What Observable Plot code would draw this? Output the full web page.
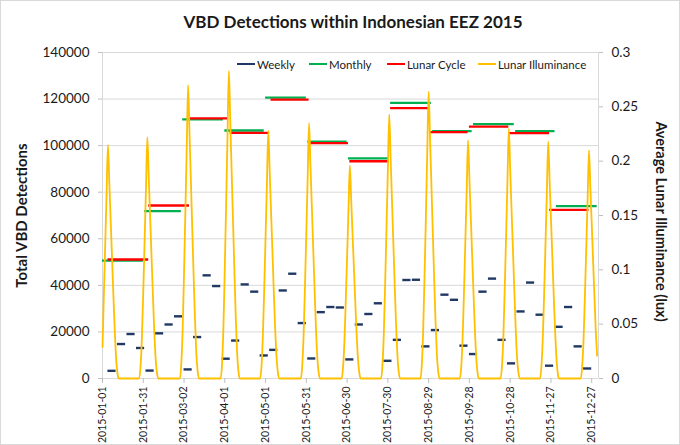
<!DOCTYPE html>
<html>
<head>
<meta charset="utf-8">
<script src="https://cdn.jsdelivr.net/npm/d3@7"></script>
<script src="https://cdn.jsdelivr.net/npm/@observablehq/plot@0.6"></script>
<style>
  html, body { margin: 0; padding: 0; background: #fff; }
  #wrap { position: relative; width: 680px; height: 445px; overflow: hidden; font-family: Lato, "Open Sans", sans-serif; color: #1a1a1a; }
  #title { height: 40px; box-sizing: border-box; padding-top: 11px; padding-left: 26px; text-align: center; font-weight: bold; font-size: 17px; }
  #frame { position: absolute; left: 0; top: 0; width: 680px; height: 445px; box-sizing: border-box; border: 1px solid #d9d9d9; pointer-events: none; }
  .lg { position: absolute; top: 57px; height: 14px; display: flex; align-items: center; font-size: 11.5px; white-space: nowrap; }
  .sw { width: 18px; height: 2.4px; margin-right: 2px; }
</style>
</head>
<body>
<div id="wrap">
  <div id="title">VBD Detections within Indonesian EEZ 2015</div>
  <div id="chart"></div>
  <div id="legend"></div>
  <div id="frame"></div>
</div>
<script>
// ---------------- data ----------------
const seriesNames = ["Weekly", "Monthly", "Lunar Cycle", "Lunar Illuminance"];
const seriesColors = ["#203864", "#00B050", "#FF0000", "#FFC000"];

// weekly totals, first week point 2015-01-08, one per 7 days
const weeklyStart = "2015-01-08";
const weeklyValues = [3300, 14800, 19100, 13100, 3400, 19400, 23200, 26700, 3900, 17800,
  44300, 39700, 8500, 16300, 40400, 37300, 9900, 12300, 37800, 45000,
  23800, 8600, 28500, 30700, 30500, 8200, 23200, 27700, 32300, 7600,
  16600, 42300, 42400, 13800, 20800, 36000, 33800, 14100, 10500, 37300,
  42900, 16600, 6500, 28800, 41200, 27400, 5500, 22200, 30700, 13800, 4300];

// monthly totals (calendar months of 2015)
const months = ["2015-01","2015-02","2015-03","2015-04","2015-05","2015-06","2015-07","2015-08","2015-09","2015-10","2015-11","2015-12"];
const monthlyValues = [50600, 71900, 111300, 106500, 120600, 101700, 94500, 118400, 106200, 109200, 106200, 74000];

// lunar cycle totals (full moon to full moon)
const lunarStart = ["2015-01-05","2015-02-04","2015-03-06","2015-04-05","2015-05-05","2015-06-03","2015-07-02","2015-08-01","2015-08-30","2015-09-28","2015-10-27","2015-11-26"];
const lunarEnd   = ["2015-02-04","2015-03-06","2015-04-03","2015-05-04","2015-06-02","2015-07-01","2015-07-31","2015-08-29","2015-09-27","2015-10-27","2015-11-26","2015-12-25"];
const lunarValues = [51100, 74300, 111700, 105500, 119800, 101100, 93300, 116100, 105800, 108200, 105400, 72400];

// daily average lunar illuminance (lux), from 2015-01-01
const illumStart = "2015-01-01";
const illuminance = [
  // Jan
  0.029,0.077,0.123,0.170,0.215,0.181,0.146,0.112,0.077,0.045,0.019,0.005, 0,0,0,0,0,0,0,0, 0,0,0,0,0,0,0,0, 0.011,0.038,0.080,
  // Feb
  0.127,0.175,0.222,0.186,0.151,0.115,0.080,0.047,0.020,0.006, 0,0,0,0,0,0,0,0, 0,0,0,0,0,0,0,0, 0, 0.014,
  // Mar
  0.046,0.097,0.154,0.213,0.270,0.227,0.184,0.140,0.097,0.057,0.024,0.007, 0,0,0,0,0,0,0,0, 0,0,0,0,0,0,0,0, 0, 0.014,0.048,
  // Apr
  0.102,0.161,0.224,0.283,0.238,0.192,0.147,0.102,0.059,0.025,0.007, 0,0,0,0,0,0,0,0, 0,0,0,0,0,0,0,0, 0.011,0.039,0.082,
  // May
  0.130,0.180,0.228,0.192,0.155,0.119,0.082,0.048,0.021,0.006, 0,0,0,0,0,0,0,0, 0,0,0,0,0,0,0,0, 0, 0.012,0.040,0.085,0.134,
  // Jun
  0.186,0.235,0.197,0.160,0.122,0.085,0.049,0.021,0.006, 0,0,0,0,0,0,0,0, 0,0,0,0,0,0,0,0, 0, 0.010,0.033,0.071,0.112,
  // Jul
  0.155,0.196,0.165,0.133,0.102,0.071,0.041,0.018,0.005, 0,0,0,0,0,0,0,0, 0,0,0,0,0,0,0,0, 0.012,0.041,0.087,0.139,0.192,0.243,
  // Aug
  0.204,0.165,0.126,0.087,0.051,0.022,0.006, 0,0,0,0,0,0,0,0, 0,0,0,0,0,0,0,0, 0.013,0.045,0.095,0.150,0.209,0.264,0.222,0.180,
  // Sep
  0.137,0.095,0.055,0.024,0.007, 0,0,0,0,0,0,0,0, 0,0,0,0,0,0,0,0, 0.011,0.037,0.079,0.125,0.173,0.219,0.184,0.149,0.114,
  // Oct
  0.079,0.046,0.020,0.005, 0,0,0,0,0,0,0,0, 0,0,0,0,0,0,0,0, 0, 0.012,0.039,0.083,0.131,0.182,0.230,0.193,0.156,0.120,0.083,
  // Nov
  0.048,0.021,0.006, 0,0,0,0,0,0,0,0, 0,0,0,0,0,0,0,0, 0.011,0.037,0.078,0.124,0.172,0.218,0.183,0.148,0.113,0.078,0.046,
  // Dec
  0.020,0.005, 0,0,0,0,0,0,0,0, 0,0,0,0,0,0,0,0, 0, 0.011,0.036,0.076,0.120,0.166,0.210,0.176,0.143,0.109,0.076,0.044,0.021
];

// axes
const xTickLabels = ["2015-01-01","2015-01-31","2015-03-02","2015-04-01","2015-05-01","2015-05-31","2015-06-30","2015-07-30","2015-08-29","2015-09-28","2015-10-28","2015-11-27","2015-12-27"];
const leftTicks = [0, 20000, 40000, 60000, 80000, 100000, 120000, 140000];
const rightTicks = [0, 0.05, 0.1, 0.15, 0.2, 0.25, 0.3];
const xDomain = ["2015-01-01", "2016-01-01"];

// ---------------- build ----------------
const parse = d3.utcParse("%Y-%m-%d");
const yMax = leftTicks[leftTicks.length - 1];
const rMax = rightTicks[rightTicks.length - 1];
const k = yMax / rMax;

const weekly = weeklyValues.map((v, i) => ({date: d3.utcDay.offset(parse(weeklyStart), 7 * i), value: v}));
const monthly = months.map((m, i) => {
  const s = d3.utcParse("%Y-%m")(m);
  return {x1: s, x2: d3.utcDay.offset(d3.utcMonth.offset(s, 1), -1), value: monthlyValues[i]};
});
const lunar = lunarValues.map((v, i) => ({x1: parse(lunarStart[i]), x2: parse(lunarEnd[i]), value: v}));
const daily = illuminance.map((v, i) => ({date: d3.utcDay.offset(parse(illumStart), i), lux: v}));

const axisGrey = "#bfbfbf";
const textCol = "#1a1a1a";

const chart = Plot.plot({
  width: 680,
  height: 405,
  marginTop: 12,
  marginBottom: 67,
  marginLeft: 102,
  marginRight: 82,
  x: {type: "utc", domain: xDomain.map(parse)},
  y: {domain: [0, yMax]},
  style: {fontFamily: "Lato, 'Open Sans', sans-serif", fontSize: "13px", color: textCol, background: "white", overflow: "visible"},
  marks: [
    Plot.gridY(leftTicks, {stroke: "#d9d9d9", strokeOpacity: 1}),
    Plot.ruleX([parse(xDomain[0]), parse(xDomain[1])], {stroke: "#d9d9d9"}),
    Plot.ruleY([0], {stroke: "#d9d9d9"}),
    Plot.axisY(leftTicks, {anchor: "left", tickSize: 4, tickPadding: 9, stroke: axisGrey, fill: textCol, fontSize: 13.5, tickFormat: d => String(d), label: null}),
    Plot.axisY(rightTicks.map(v => v * k), {anchor: "right", tickSize: 4, tickPadding: 9, stroke: axisGrey, fill: textCol, fontSize: 13.5,
      tickFormat: d => String(Math.round(d / k * 100) / 100), label: null}),
    Plot.axisX(xTickLabels.map(parse), {anchor: "bottom", tickSize: 5, tickPadding: 3, tickRotate: -90, stroke: axisGrey, fill: textCol, fontSize: 10.5,
      tickFormat: d3.utcFormat("%Y-%m-%d"), label: null}),
    Plot.ruleY(weekly, {y: "value", x1: d => d3.utcDay.offset(d.date, -3), x2: d => d3.utcDay.offset(d.date, 3), stroke: seriesColors[0], strokeWidth: 2.4}),
    Plot.ruleY(monthly, {y: "value", x1: "x1", x2: "x2", stroke: seriesColors[1], strokeWidth: 2.3}),
    Plot.ruleY(lunar, {y: "value", x1: "x1", x2: "x2", stroke: seriesColors[2], strokeWidth: 2.3}),
    Plot.line(daily, {x: "date", y: d => d.lux * k, stroke: seriesColors[3], strokeWidth: 1.8, curve: "monotone-x"}),
    Plot.text(["Total VBD Detections"], {text: d => d, frameAnchor: "left", textAnchor: "middle", dx: -80, rotate: -90, fontSize: 15, fontWeight: "bold", fill: textCol}),
    Plot.text(["Average Lunar Illuminance (lux)"], {text: d => d, frameAnchor: "right", textAnchor: "middle", dx: 62, dy: 6, rotate: 90, fontSize: 14.5, fontWeight: "bold", fill: textCol})
  ]
});
document.getElementById("chart").appendChild(chart);

// legend (inside plot area, top)
const legendX = [237, 309, 387, 478];
const legend = document.getElementById("legend");
seriesNames.forEach((name, i) => {
  const item = document.createElement("div");
  item.className = "lg";
  item.style.left = legendX[i] + "px";
  const sw = document.createElement("div");
  sw.className = "sw";
  sw.style.background = seriesColors[i];
  const t = document.createElement("span");
  t.textContent = name;
  item.appendChild(sw);
  item.appendChild(t);
  legend.appendChild(item);
});
</script>
</body>
</html>
